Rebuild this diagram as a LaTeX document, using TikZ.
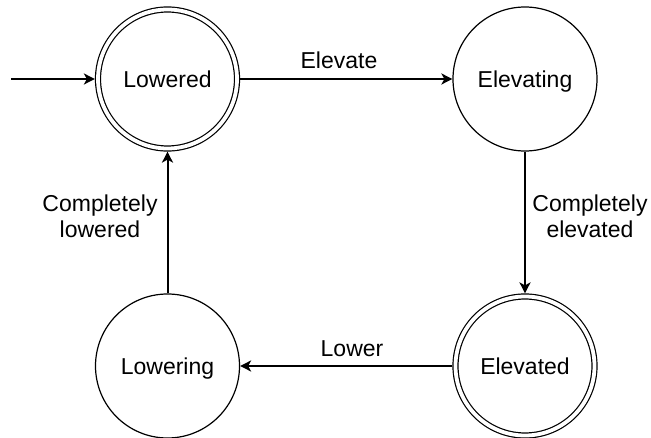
\documentclass[tikz,border=0pt]{standalone}
\usepackage{fontspec}
\setmainfont{Liberation Sans}
\usetikzlibrary{arrows.meta}
\begin{document}
\begin{tikzpicture}[x=1pt,y=-1pt,
  every node/.style={font=\fontsize{23}{26}\selectfont},
  statenode/.style={circle,draw=black,line width=1.2pt,minimum size=144pt,inner sep=0pt,
    text height=18pt,text depth=0pt},
  acceptnode/.style={statenode,minimum size=139pt,double,double distance=3.8pt,outer sep=3.1pt},
  edge/.style={line width=2pt,-{Stealth[length=11pt,width=11pt,inset=3pt]}},
  lbl/.style={inner sep=0pt,align=center}]
\useasboundingbox (0,0) rectangle (651,438);
\node[acceptnode] (lowered) at (167.5,79) {Lowered};
\node[statenode] (elevating) at (525,79) {Elevating};
\node[acceptnode] (elevated) at (525,366) {Elevated};
\node[statenode] (lowering) at (167.5,366) {Lowering};
\coordinate (start) at (11,79);
\draw[edge] (start) -- (lowered);
\draw[edge] (lowered) -- (elevating);
\draw[edge] (elevating) -- (elevated);
\draw[edge] (elevated) -- (lowering);
\draw[edge] (lowering) -- (lowered);
\node[lbl,anchor=base] (lelevate) at (339,69) {Elevate};
\node[lbl,anchor=base] (llower) at (352,357) {Lower};
\node[lbl] (lcompel) at (590,216.6) {Completely\\elevated};
\node[lbl] (lcomplo) at (100,216.6) {Completely\\lowered};
\end{tikzpicture}
\end{document}
